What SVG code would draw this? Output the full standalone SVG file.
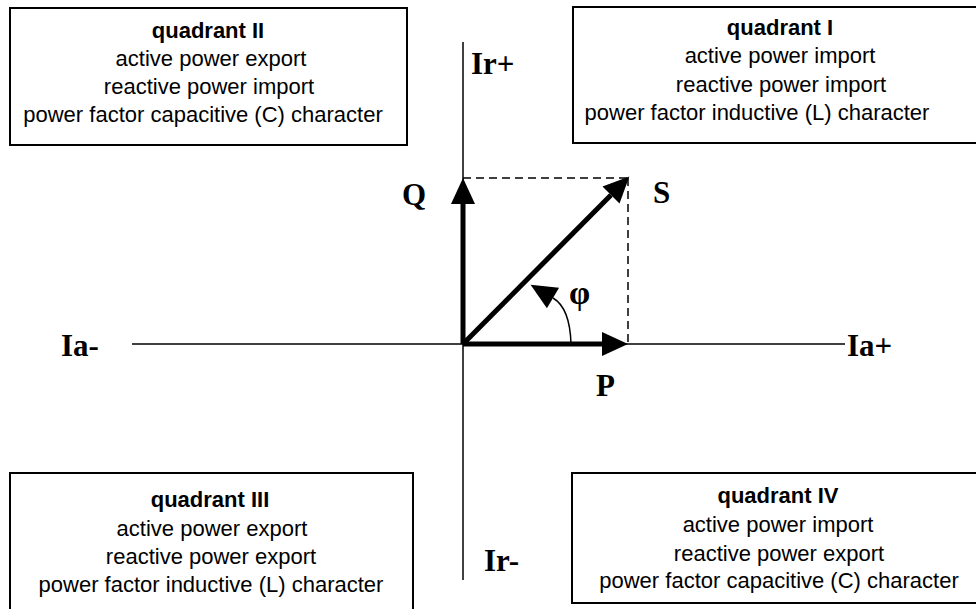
<svg xmlns="http://www.w3.org/2000/svg" width="976" height="609" viewBox="0 0 976 609">
<style>
.box{fill:#fff;stroke:#000;stroke-width:2}
.t{font-family:"Liberation Sans",Arial,sans-serif;font-size:22px;fill:#000;text-anchor:middle}
.tb{font-weight:bold}
.lbl{font-family:"Liberation Serif","Times New Roman",serif;font-size:31px;font-weight:bold;fill:#000}
.axis{stroke:#000;stroke-width:1.5;fill:none}
.vec{stroke:#000;stroke-width:5;fill:none}
.dash{stroke:#000;stroke-width:1.5;stroke-dasharray:8 5;fill:none}
</style>
<defs>
<marker id="ah" markerUnits="userSpaceOnUse" markerWidth="26" markerHeight="24" refX="0" refY="12" orient="auto" overflow="visible">
<path d="M0,0 L26,12 L0,24 z" fill="#000"/>
</marker>
</defs>
<g id="quadrant2">
<rect class="box" x="10" y="8" width="397" height="137"/>
<text class="t tb" x="208" y="38">quadrant II</text>
<text class="t" x="211" y="66">active power export</text>
<text class="t" x="209" y="94">reactive power import</text>
<text class="t" x="203" y="122">power factor capacitive (C) character</text>
</g>
<g id="quadrant1">
<rect class="box" x="573" y="7" width="410" height="136"/>
<text class="t tb" x="780" y="35">quadrant I</text>
<text class="t" x="780" y="63">active power import</text>
<text class="t" x="781" y="92">reactive power import</text>
<text class="t" x="757" y="120">power factor inductive (L) character</text>
</g>
<g id="quadrant3">
<rect class="box" x="10" y="473" width="403" height="145"/>
<text class="t tb" x="210" y="507">quadrant III</text>
<text class="t" x="212" y="536">active power export</text>
<text class="t" x="211" y="564">reactive power export</text>
<text class="t" x="211" y="592">power factor inductive (L) character</text>
</g>
<g id="quadrant4">
<rect class="box" x="572" y="473" width="414" height="130"/>
<text class="t tb" x="778" y="503">quadrant IV</text>
<text class="t" x="778" y="532">active power import</text>
<text class="t" x="779" y="561">reactive power export</text>
<text class="t" x="779" y="588">power factor capacitive (C) character</text>
</g>
<g id="connectors">
<line class="axis" x1="132" y1="344" x2="845" y2="344"/>
<line class="axis" x1="463" y1="42" x2="463" y2="580"/>
<line class="dash" x1="463" y1="178" x2="628" y2="178"/>
<line class="dash" x1="628" y1="178" x2="628" y2="344"/>
<line class="vec" x1="463" y1="344" x2="602" y2="344" marker-end="url(#ah)"/>
<line class="vec" x1="463" y1="344" x2="463" y2="204" marker-end="url(#ah)"/>
<line class="vec" x1="463" y1="344" x2="611" y2="195" marker-end="url(#ah)"/>
<path class="axis" d="M571,344 Q570,308 553,298" marker-end="url(#ah)"/>
</g>
<g id="labels">
<text class="lbl" x="61" y="356">Ia-</text>
<text class="lbl" x="847" y="356">Ia+</text>
<text class="lbl" x="471" y="74">Ir+</text>
<text class="lbl" x="484" y="571">Ir-</text>
<text class="lbl" x="402" y="205">Q</text>
<text class="lbl" x="653" y="203">S</text>
<text class="lbl" x="596" y="396">P</text>
<text class="lbl" x="569" y="304" style="font-size:34px;font-weight:bold">φ</text>
</g>
</svg>
